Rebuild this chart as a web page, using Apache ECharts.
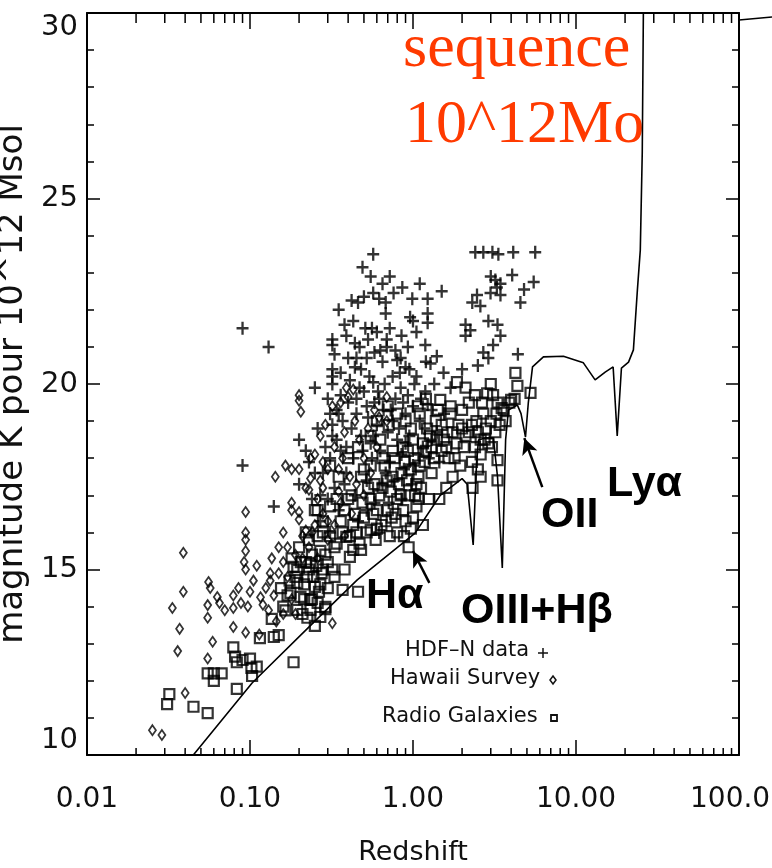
<!DOCTYPE html>
<html>
<head>
<meta charset="utf-8">
<script src="https://cdn.jsdelivr.net/npm/echarts@6/dist/echarts.min.js"></script>
<style>html,body{margin:0;padding:0;background:#fff}#c{width:772px;height:868px}</style>
</head>
<body>
<div id="c"></div>
<script>
// ---- tick labels ----
const xMajorTicks = [0.01, 0.1, 1, 10, 100];
const xTickLabels = ['0.01', '0.10', '1.00', '10.00', '100.00'];
const xMinorTicks = [0.02,0.03,0.04,0.05,0.06,0.07,0.08,0.09,
  0.2,0.3,0.4,0.5,0.6,0.7,0.8,0.9, 2,3,4,5,6,7,8,9, 20,30,40,50,60,70,80,90];
const yTicks = [10, 15, 20, 25, 30];

// ---- HDF-N data (+) : [redshift, magnitude K] ----
const hdfData = [
[0.090,21.5],[0.13,21.0],[0.09,17.8],[0.14,16.7],[0.20,18.5],[0.20,17.3],
[0.57,23.5],[0.49,23.15],[0.46,22.2],[0.42,22.25],[0.50,22.35],[0.57,22.45],[0.62,22.3],[0.68,22.2],[0.76,22.45],[0.99,22.3],
[0.68,21.9],[0.96,21.8],[0.38,21.6],[0.32,21.2],[0.32,21.05],[0.44,21.1],[0.51,21.5],[0.56,21.5],[0.69,21.2],[0.69,21.0],
[0.40,20.7],[0.45,20.7],[0.52,20.7],[0.44,20.45],[0.48,20.4],[0.58,20.85],[0.32,20.4],[0.32,20.2],[0.32,20.0],[0.57,20.05],
[0.75,20.2],[0.84,19.9],[0.87,19.5],[0.65,20.6],[0.80,20.65],[0.90,20.45],[1.0,21.7],[1.05,21.4],[1.19,21.05],[1.23,22.3],
[1.50,22.5],[1.23,21.9],[1.23,21.65],[1.28,20.55],[1.54,20.3],[1.19,19.8],[1.23,19.45],
[2.41,23.55],[2.70,23.55],[3.07,23.55],[3.34,23.5],[4.12,23.55],[5.62,23.55],[4.06,22.94],[5.5,22.75],[4.8,22.55],[4.56,22.2],
[3.44,22.7],[3.27,22.6],[2.99,22.45],[3.44,22.4],[3.0,22.9],[3.2,22.8],[2.47,22.4],[2.31,22.2],[2.59,22.1],[2.1,21.6],
[2.25,21.45],[2.1,21.3],[2.9,21.7],[3.3,21.6],[3.44,21.3],[3.1,21.05],[2.9,20.7],[4.4,20.8],[2.5,20.5],[2.0,20.4],[2.7,20.85],
[0.30,19.6],[0.34,19.3],[0.37,19.0],[0.40,19.5],[0.42,18.8],[0.45,19.2],[0.48,18.6],[0.50,19.8],[0.53,19.1],[0.55,18.4],
[0.58,19.5],[0.60,18.9],[0.63,18.2],[0.66,19.3],[0.70,18.7],[0.72,17.9],[0.75,19.0],[0.80,18.5],[0.85,18.1],[0.90,19.2],
[0.95,18.6],[1.0,17.8],[1.1,19.0],[1.15,18.3],[1.3,19.3],[1.4,18.7],[0.36,18.2],[0.31,18.0],[0.28,17.6],[0.33,17.2],
[0.39,17.6],[0.44,17.0],[0.52,17.4],[0.58,16.8],[0.65,17.3],[0.26,18.8],[0.25,19.9],[0.27,17.0],[0.23,17.9],[0.35,16.6],
[0.46,16.3],[0.62,16.0],[0.31,19.2],[0.36,19.7],[0.41,20.1],[0.47,19.9],[0.54,20.2],[0.61,19.8],[0.67,20.0],[0.78,19.6],
[0.83,20.3],[0.93,19.7],[1.02,20.0],[1.12,19.6],[1.35,20.0],[0.29,18.3],[0.34,18.5],[0.39,18.3],[0.43,18.0],[0.49,18.2],
[0.56,18.0],[0.68,17.6],[0.77,17.4],[0.88,17.7],[0.98,17.3],[1.08,18.1],[1.25,18.0],[1.45,17.9],[0.30,16.9],[0.38,17.3],
[0.24,16.9],[0.22,18.2],[0.25,17.6],[0.52,16.6],[0.71,16.8],[0.85,16.9],[0.32,18.9],[0.32,18.6],[0.35,19.2],[0.84,20.7],
[0.95,20.4],[1.05,20.2],[1.2,20.6],[1.4,20.75],
[0.33,20.8],[0.36,20.3],[0.39,21.3],[0.43,21.7],[0.47,21.0],[0.53,21.2],[0.6,21.4],[0.63,20.9],[0.72,21.5],[0.78,20.9],
[0.85,21.3],[0.93,21.0],[0.35,22.0],[0.55,22.9],[0.65,22.7],[0.72,22.9],[0.86,22.6],[1.1,22.7],[0.45,19.6],[0.52,19.4],
[0.57,18.6],[0.62,19.6],[0.73,19.3],[0.82,18.8],[0.9,18.4],[1.0,19.4],[1.18,18.8],[1.3,18.5],[1.55,19.2],[1.7,19.9],
[0.27,16.3],[0.31,16.0]
];

// ---- Hawaii Survey (diamonds) ----
const hawaiiData = [
[0.0252,10.67],[0.0288,10.54],[0.040,11.67],[0.0334,13.96],[0.039,14.4],[0.039,15.45],[0.037,13.4],[0.036,12.8],
[0.0557,14.66],[0.063,14.26],[0.055,14.04],[0.055,13.7],[0.059,13.05],[0.055,12.6],[0.079,14.3],[0.079,13.96],
[0.094,16.0],[0.094,15.8],[0.094,15.5],[0.092,15.2],[0.094,15.0],[0.10,14.4],[0.097,14.0],[0.079,13.45],[0.094,13.3],
[0.136,15.3],[0.133,14.9],[0.133,14.7],[0.116,14.25],[0.12,14.05],[0.145,13.6],[0.32,13.55],[0.114,13.25],[0.094,16.55],
[0.235,18.0],[0.143,17.5],[0.165,17.8],[0.18,17.7],[0.20,17.7],[0.235,17.45],[0.27,17.4],[0.30,17.7],[0.23,17.15],
[0.39,19.9],[0.40,19.65],[0.43,19.85],[0.37,18.0],[0.35,17.7],[0.18,16.6],[0.20,16.55],[0.20,16.35],[0.22,16.05],[0.18,16.8],
[0.20,19.7],[0.20,19.55],[0.205,19.25],[0.69,19.65],[0.62,19.1],[0.69,19.0],
[0.057,14.5],[0.065,14.1],[0.07,13.9],[0.085,14.5],[0.088,14.1],[0.105,14.7],[0.11,15.1],[0.125,14.5],[0.15,15.6],
[0.16,15.2],[0.17,14.8],[0.19,15.4],[0.21,15.9],[0.23,15.6],[0.25,16.2],[0.26,15.3],[0.28,16.5],[0.30,15.8],[0.33,16.2],
[0.36,16.8],[0.38,15.9],[0.42,16.5],[0.45,17.3],[0.5,17.0],[0.55,17.6],[0.6,18.3],[0.27,18.6],[0.29,18.9],[0.32,19.4],
[0.5,18.0],[0.26,16.9],[0.3,16.3],[0.35,17.1],[0.41,17.5],[0.47,18.5],[0.53,18.8],[0.58,19.3],[0.25,18.1],[0.22,17.2],[0.28,17.9],
[0.16,16.0],[0.17,15.6],[0.18,14.2],[0.15,14.9],[0.14,14.3],[0.13,13.9],[0.16,13.8],[0.19,13.8],[0.21,15.3],[0.24,16.0],
[0.28,17.2],[0.33,18.3],[0.38,18.7],[0.44,19.0],[0.36,19.5]
];

// ---- Radio Galaxies (squares) ----
const radioData = [
[0.032,11.64],[0.031,11.37],[0.045,11.3],[0.055,11.13],[0.055,12.2],[0.060,12.2],[0.067,12.2],[0.060,12.0],[0.083,11.78],
[0.079,12.9],[0.081,12.65],[0.083,12.5],[0.09,12.56],[0.10,12.6],[0.102,12.35],[0.11,12.38],[0.103,12.13],[0.136,13.67],
[0.115,13.15],[0.14,13.18],[0.15,13.23],[0.185,12.5],[0.25,13.48],[0.29,13.93],[0.37,14.45],[0.46,14.4],
[0.185,15.07],[0.195,14.64],[0.177,14.37],[0.204,14.26],[0.235,14.18],[0.195,13.91],[0.235,13.91],[0.25,14.53],[0.224,14.8],
[0.27,13.72],[0.29,13.99],[0.165,13.9],[0.17,14.3],[0.175,14.7],[0.21,13.8],[0.215,14.2],[0.22,15.2],[0.225,13.7],[0.245,14.8],
[0.26,14.1],[0.27,14.6],[0.28,15.0],[0.155,14.5],[0.16,14.0],
[0.195,14.99],[0.235,15.18],[0.41,15.34],[0.48,15.53],[0.59,15.8],[0.55,16.07],[0.39,15.88],[0.34,15.7],[0.43,15.53],
[0.2,15.6],[0.22,16.0],[0.24,15.4],[0.26,15.9],[0.28,16.3],[0.18,15.3],[0.25,16.6],
[0.5,16.4],[0.55,16.9],[0.6,16.1],[0.65,17.2],[0.7,16.6],[0.75,17.5],[0.8,16.9],[0.85,17.6],[0.9,16.3],[0.94,15.6],
[1.0,16.4],[0.95,17.0],[0.88,15.9],[0.8,16.0],[0.72,15.9],[1.05,17.3],[1.1,17.8],[1.2,18.2],[1.3,17.6],[1.4,18.5],
[1.5,18.9],[1.6,18.3],[1.47,19.57],[1.75,18.7],[1.9,18.9],[1.86,20.05],[0.75,18.2],[0.65,18.0],[0.55,17.8],[0.6,19.0],
[0.7,19.4],[0.9,19.0],[1.0,18.5],[1.1,19.2],[1.2,19.6],[0.45,16.0],[0.48,17.5],[0.42,17.0],[0.38,16.6],[1.25,16.9],
[1.15,16.2],[1.05,16.7],[0.97,16.1],[1.08,16.9],
[2.0,18.8],[2.1,18.6],[2.3,18.9],[2.5,18.7],[2.6,18.5],[2.8,18.8],[3.0,19.0],[3.2,18.7],[3.4,18.9],[3.6,19.3],[3.9,19.5],
[4.2,19.6],[4.25,20.3],[4.37,19.95],[5.26,19.76],[3.0,20.0],[3.1,19.7],[3.3,19.5],[3.5,19.35],[4.0,19.57],[2.4,18.3],
[2.6,18.1],[2.9,18.4],[3.3,17.95],[3.3,17.4],[2.3,17.9],[2.5,17.7],[2.6,17.5],[2.32,17.2],[1.6,17.2],[1.45,16.9],
[1.75,17.5],[1.95,17.8],[2.0,19.3],[2.2,19.5],[1.7,19.2],[2.7,19.2],[1.8,18.0],
[0.28,16.0],[0.31,16.7],[0.33,15.6],[0.36,16.3],[0.4,16.9],[0.44,16.5],[0.47,15.7],[0.52,16.0],[0.57,16.5],[0.62,17.0],
[0.68,16.3],[0.73,17.1],[0.78,16.5],[0.82,17.3],[0.87,16.6],[0.92,17.4],[0.97,17.7],[1.02,18.0],[1.08,17.5],[1.15,18.4],
[1.22,18.8],[1.3,18.3],[1.38,19.0],[1.5,18.2],[1.62,18.7],[1.7,19.4],[0.58,17.3],[0.67,17.8],[0.77,18.0],[0.87,18.3],
[0.97,18.8],[1.07,19.4],[0.5,17.7],[0.46,18.3],[0.55,18.6],[0.63,18.5],[0.71,18.9],[0.8,19.2],[0.4,18.0],[0.35,17.5],
[0.31,17.8],[0.26,16.6],[0.23,15.8],[0.3,15.2],[0.33,14.8],[0.38,15.0],[0.27,15.5],
[0.34,16.9],[0.37,16.0],[0.41,15.9],[0.43,16.2],[0.49,16.8],[0.53,17.2],[0.6,16.6],[0.64,16.2],[0.69,17.4],[0.74,16.4],
[0.84,17.0],[0.89,17.9],[0.93,18.2],[1.03,17.0],[1.12,17.2],[1.18,17.9],[1.27,18.6],[1.35,18.0],[1.42,19.3],[1.55,18.5],
[1.65,18.0],[1.85,18.4],[2.05,18.3],[2.2,18.7],[2.45,19.0],[2.75,18.5],[3.05,18.3],[3.25,19.2],[3.7,19.0],[2.1,19.9],
[2.4,19.7],[2.65,19.5],[2.85,19.75],
[0.19,14.8],[0.205,15.2],[0.215,14.6],[0.23,15.0],[0.24,14.2],[0.255,15.1],[0.265,14.4],[0.275,14.9],[0.29,15.4],[0.3,14.5],
[0.31,15.9],[0.32,15.0]
];

// ---- model sequence 10^12 Mo ----
const modelCurve = [
[0.0449,10.0],[0.103,11.94],[0.244,13.56],[0.455,14.72],[1.03,15.98],[1.47,17.0],[2.0,17.45],[2.15,17.3],[2.34,15.66],
[2.45,17.8],[2.52,18.49],[2.8,18.55],[3.11,18.54],[3.3,17.5],[3.53,15.04],[3.7,18.5],[3.85,19.30],[4.37,19.43],[4.6,19.2],
[4.90,18.57],[5.1,19.5],[5.41,20.46],[6.31,20.73],[8.37,20.75],[11.1,20.57],[13.1,20.11],[15.1,20.32],[16.9,20.46],
[17.9,18.6],[19.0,20.43],[21.0,20.59],[22.5,20.92],[23.8,22.53],[24.8,23.61],[25.5,26.25],[25.9,30]
];

// ---- arrows (tail, head) ----
const arrowHa = [[1.26,14.64],[1.00,15.50]];
const arrowOII = [[6.21,17.22],[4.82,18.54]];

const chart = echarts.init(document.getElementById('c'), null, {renderer: 'canvas'});
const TXT = '#111';
const tickFont = 'DejaVu Sans';

function xLabel(v) {
  for (let i = 0; i < xMajorTicks.length; i++) {
    if (Math.abs(Math.log10(v) - Math.log10(xMajorTicks[i])) < 1e-6) return xTickLabels[i];
  }
  return '';
}

const axisLine = {show: true, lineStyle: {color: '#000', width: 2}};
const plusPath = 'path://M5,0L5,10M0,5L10,5';

chart.setOption({
  backgroundColor: '#fff',
  animation: false,
  grid: {left: 87, right: 33, top: 13, bottom: 113, containLabel: false, outerBoundsMode: 'none'},
  xAxis: [{
    type: 'log', logBase: 10, min: 0.01, max: 100, position: 'bottom',
    axisLine: axisLine,
    axisTick: {show: true, inside: true, length: 15, lineStyle: {color: '#000', width: 1.5}},
    axisLabel: {formatter: xLabel, fontFamily: tickFont, fontSize: 28, color: TXT, margin: 31},
    splitLine: {show: false},
    name: 'Redshift', nameLocation: 'middle', nameGap: 84,
    nameTextStyle: {fontFamily: tickFont, fontSize: 27, color: TXT}
  }, {
    type: 'log', logBase: 10, min: 0.01, max: 100, position: 'top',
    axisLine: axisLine,
    axisTick: {show: true, inside: true, length: 16, lineStyle: {color: '#000', width: 1.5}},
    axisLabel: {show: false}, splitLine: {show: false}
  }],
  yAxis: [{
    type: 'value', min: 10, max: 30, interval: 5, position: 'left',
    axisLine: axisLine,
    axisTick: {show: true, inside: true, length: 13, lineStyle: {color: '#000', width: 1.5}},
    minorTick: {show: true, splitNumber: 5, length: 7, lineStyle: {color: '#000', width: 1.5}},
    axisLabel: {fontFamily: tickFont, fontSize: 29, color: TXT, margin: 9,
      verticalAlignMaxLabel: 'top', verticalAlignMinLabel: 'bottom'},
    splitLine: {show: false}, minorSplitLine: {show: false},
    name: 'magnitude K pour 10^12 Msol', nameLocation: 'middle', nameGap: 56, nameRotate: 90,
    nameTextStyle: {fontFamily: tickFont, fontSize: 34, color: TXT}
  }, {
    type: 'value', min: 10, max: 30, interval: 5, position: 'right',
    axisLine: axisLine,
    axisTick: {show: true, inside: true, length: 13, lineStyle: {color: '#000', width: 1.5}},
    minorTick: {show: true, splitNumber: 5, length: 7, lineStyle: {color: '#000', width: 1.5}},
    axisLabel: {show: false}, splitLine: {show: false}
  }],
  series: [
    {
      type: 'custom', name: 'minorTicks', xAxisIndex: 0, yAxisIndex: 0, clip: false, silent: true,
      data: xMinorTicks.map(v => [v, 10]),
      renderItem: function (params, api) {
        const v = api.value(0);
        const b = api.coord([v, 10]);
        const t = api.coord([v, 30]);
        return {type: 'group', children: [
          {type: 'line', shape: {x1: b[0], y1: b[1], x2: b[0], y2: b[1] - 7}, style: {stroke: '#000', lineWidth: 1.5}},
          {type: 'line', shape: {x1: t[0], y1: t[1], x2: t[0], y2: t[1] + 10}, style: {stroke: '#000', lineWidth: 1.5}}
        ]};
      }
    },
    {
      type: 'scatter', name: 'Radio Galaxies', data: radioData, symbol: 'rect', symbolSize: 10,
      itemStyle: {color: 'transparent', borderColor: '#000', borderWidth: 2.2}, silent: true
    },
    {
      type: 'scatter', name: 'Hawaii Survey', data: hawaiiData, symbol: 'diamond', symbolSize: [7, 10],
      itemStyle: {color: 'transparent', borderColor: '#000', borderWidth: 1.8}, silent: true
    },
    {
      type: 'scatter', name: 'HDF-N data', data: hdfData, symbol: plusPath, symbolSize: [12, 13],
      itemStyle: {color: 'transparent', borderColor: '#000', borderWidth: 2.4}, silent: true
    },
    {
      type: 'line', name: 'sequence', data: modelCurve, showSymbol: false, symbol: 'none',
      lineStyle: {color: '#000', width: 1.6}, silent: true,
      markLine: {
        silent: true, symbol: ['none', 'arrow'], symbolSize: [12, 16],
        lineStyle: {color: '#000', width: 2.5, type: 'solid'},
        label: {show: false},
        data: [
          [{coord: arrowHa[0]}, {coord: arrowHa[1]}],
          [{coord: arrowOII[0]}, {coord: arrowOII[1]}]
        ]
      }
    }
  ],
  graphic: [
    {type: 'text', left: 403, top: 19, style: {text: 'sequence', font: '62px "Liberation Serif", "Times New Roman", serif', fill: '#ff3a00'}},
    {type: 'text', left: 405, top: 95, style: {text: '10^12Mo', font: '62px "Liberation Serif", "Times New Roman", serif', fill: '#ff3a00'}},
    {type: 'text', left: 366, top: 575, style: {text: 'H\u03b1', font: 'bold 43px "Liberation Sans", Arial, sans-serif', fill: '#000'}},
    {type: 'text', left: 461, top: 590, style: {text: 'OIII+H\u03b2', font: 'bold 43px "Liberation Sans", Arial, sans-serif', fill: '#000'}},
    {type: 'text', left: 541, top: 494, style: {text: 'OII', font: 'bold 43px "Liberation Sans", Arial, sans-serif', fill: '#000'}},
    {type: 'text', left: 607, top: 463, style: {text: 'Ly\u03b1', font: 'bold 43px "Liberation Sans", Arial, sans-serif', fill: '#000'}},
    {type: 'text', left: 405, top: 640, style: {text: 'HDF\u2013N data', font: '21px "DejaVu Sans", sans-serif', fill: TXT}},
    {type: 'text', left: 390, top: 668, style: {text: 'Hawaii Survey', font: '21px "DejaVu Sans", sans-serif', fill: TXT}},
    {type: 'text', left: 382, top: 706, style: {text: 'Radio Galaxies', font: '21px "DejaVu Sans", sans-serif', fill: TXT}},
    {type: 'group', children: [
      {type: 'line', shape: {x1: 543, y1: 648, x2: 543, y2: 658}, style: {stroke: '#111', lineWidth: 1.5}},
      {type: 'line', shape: {x1: 538, y1: 653, x2: 548, y2: 653}, style: {stroke: '#111', lineWidth: 1.5}},
      {type: 'polygon', shape: {points: [[553, 676], [556, 680], [553, 684], [550, 680]]}, style: {fill: 'none', stroke: '#111', lineWidth: 1.5}},
      {type: 'rect', shape: {x: 551, y: 715, width: 6, height: 6}, style: {fill: 'none', stroke: '#111', lineWidth: 1.8}},
      {type: 'line', shape: {x1: 739, y1: 20, x2: 772, y2: 17}, style: {stroke: '#000', lineWidth: 1.5}}
    ]}
  ]
});
</script>
</body>
</html>
